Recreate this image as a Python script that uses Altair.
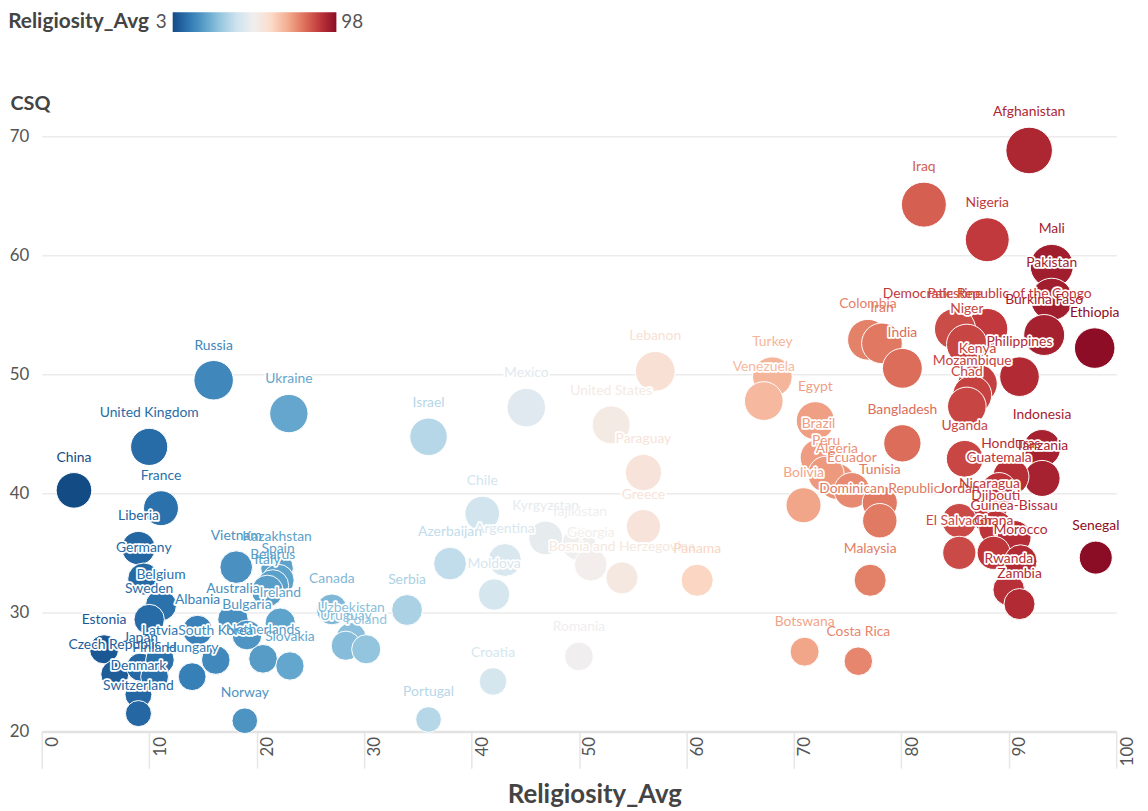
import altair as alt
import pandas as pd

countries = [
    "China", "United Kingdom", "Russia", "Ukraine", "France", "Liberia", "Germany", "Belgium",
    "Sweden", "Estonia", "Czech Republic", "Japan", "Latvia", "Finland", "Hungary", "South Korea",
    "Denmark", "Switzerland", "Albania", "Australia", "Bulgaria", "Netherlands", "Slovakia", "Norway",
    "Vietnam", "Kazakhstan", "Spain", "Belarus", "Italy", "Ireland", "Canada", "Uzbekistan",
    "Uruguay", "Poland", "Israel", "Serbia", "Azerbaijan", "Chile", "Argentina", "Moldova",
    "Mexico", "Kyrgyzstan", "Tajikistan", "Georgia", "Bosnia and Herzegovina", "Croatia", "Portugal", "Romania",
    "United States", "Lebanon", "Paraguay", "Greece", "Panama", "Turkey", "Venezuela", "Egypt",
    "Brazil", "Algeria", "Peru", "Ecuador", "Bolivia", "Tunisia", "Dominican Republic", "Malaysia",
    "Botswana", "Costa Rica", "Colombia", "Iran", "India", "Bangladesh", "Iraq", "Afghanistan",
    "Nigeria", "Mali", "Pakistan", "Democratic Republic of the Congo", "Palestine", "Burkina Faso", "Ethiopia", "Niger",
    "Philippines", "Kenya", "Mozambique", "Chad", "Uganda", "Indonesia", "Tanzania", "Honduras",
    "Guatemala", "Nicaragua", "Jordan", "Djibouti", "Guinea-Bissau", "El Salvador", "Ghana", "Morocco",
    "Rwanda", "Zambia", "Senegal",
]
religiosity = [
    3.0, 10.0, 16.0, 23.0, 11.1, 9.0, 9.5, 11.1,
    10.0, 5.8, 6.8, 9.2, 11.0, 10.5, 14.0, 16.2,
    9.0, 9.0, 14.5, 17.8, 19.1, 20.6, 23.1, 18.9,
    18.1, 21.9, 22.0, 21.5, 21.0, 22.2, 27.0, 28.8,
    28.3, 30.2, 36.0, 34.0, 38.0, 41.0, 43.1, 42.1,
    45.1, 46.9, 50.0, 51.1, 54.0, 42.0, 36.0, 50.0,
    53.0, 57.1, 56.0, 56.0, 61.0, 68.0, 67.2, 72.0,
    72.3, 74.0, 73.0, 75.4, 70.9, 78.0, 78.0, 77.1,
    71.0, 76.0, 76.9, 78.2, 80.1, 80.1, 82.1, 91.9,
    88.0, 94.0, 94.0, 88.0, 85.0, 93.3, 98.0, 86.1,
    91.0, 87.1, 86.6, 86.1, 85.9, 93.1, 93.1, 90.2,
    89.1, 88.2, 85.4, 88.8, 90.5, 85.4, 88.6, 91.1,
    90.0, 91.0, 98.1,
]
csq = [
    40.25, 43.9, 49.5, 46.7, 38.75, 35.4, 32.8, 30.6,
    29.4, 26.9, 24.8, 25.4, 26.0, 24.6, 24.6, 26.0,
    23.1, 21.5, 28.5, 29.4, 28.1, 26.1, 25.5, 20.9,
    33.8, 33.7, 32.7, 32.25, 31.8, 29.1, 30.25, 27.9,
    27.2, 26.9, 44.75, 30.2, 34.1, 38.3, 34.4, 31.5,
    47.2, 36.25, 35.75, 34.0, 32.9, 24.2, 21.0, 26.3,
    45.75, 50.25, 41.75, 37.2, 32.7, 49.8, 47.75, 46.1,
    43.0, 41.0, 41.6, 40.25, 39.0, 39.2, 37.7, 32.7,
    26.7, 25.9, 52.9, 52.6, 50.5, 44.2, 64.25, 68.8,
    61.3, 59.1, 56.3, 53.8, 53.8, 53.3, 52.2, 52.5,
    49.8, 49.2, 48.25, 47.3, 42.9, 43.8, 41.25, 41.4,
    40.25, 38.1, 37.7, 37.1, 36.3, 35.0, 35.0, 34.3,
    31.9, 30.7, 34.6,
]

x_ticks = list(range(0, 101, 10))
y_ticks = list(range(20, 71, 10))
legend_title = "Religiosity_Avg"
legend_min = "3"
legend_max = "98"

FONT = "Lato"
df = pd.DataFrame({"country": countries, "religiosity": religiosity, "csq": csq})

color_scale = alt.Scale(scheme="redblue", reverse=True, domain=[3, 98])
# Vega circle: diameter = sqrt(size); area proportional to CSQ
size_scale = alt.Scale(type="linear", domain=[0, 70], range=[0, 2240])

x_enc = alt.X(
    "religiosity:Q",
    scale=alt.Scale(domain=[0, 100], nice=False, zero=False),
    axis=alt.Axis(
        values=x_ticks, grid=False, tickSize=37, tickColor="#e6e6e6", tickWidth=1.5,
        domainColor="#e2e2e2", domainWidth=2.5, labelAngle=270, labelOffset=11,
        labelPadding=-32, labelFontSize=17, labelColor="#555555", labelFont=FONT,
        title="Religiosity_Avg", titleFontSize=26, titleFontWeight="bold",
        titleColor="#444444", titleY=64, titleX=557, titleBaseline="middle", titleFont=FONT,
    ),
)
y_enc = alt.Y(
    "csq:Q",
    scale=alt.Scale(domain=[20, 70], nice=False, zero=False),
    axis=alt.Axis(
        values=y_ticks, ticks=False, domain=False, labelFontSize=17, labelColor="#555555",
        labelPadding=13, labelFont=FONT, gridColor="#ebebeb", gridWidth=1.5,
        title="CSQ", titleAngle=0, titleX=-32, titleY=-33, titleAlign="left",
        titleBaseline="middle", titleFontSize=20, titleFontWeight="bold",
        titleColor="#444444", titleFont=FONT,
    ),
)
color_enc = alt.Color(
    "religiosity:Q",
    scale=color_scale,
    legend=alt.Legend(
        orient="none", legendX=132, legendY=-125, direction="horizontal",
        gradientLength=165, gradientThickness=20, labelOpacity=0, title=None,
        gradientStrokeWidth=0,
    ),
)

base = alt.Chart(df)
points = base.mark_circle(opacity=1, stroke="white", strokeWidth=1).encode(
    x=x_enc, y=y_enc, color=color_enc,
    size=alt.Size("csq:Q", scale=size_scale, legend=None),
)
# label sits just above its circle: radius (px) + gap, converted at 12 px per CSQ unit
lab_base = base.transform_calculate(
    label_y="datum.csq + (2.83*sqrt(datum.csq) + 15) / 12"
)
halo = lab_base.mark_text(
    font=FONT, fontSize=14, stroke="white", strokeWidth=3.5, strokeJoin="round",
    fill="white", baseline="middle",
).encode(
    x="religiosity:Q", y="label_y:Q", text="country:N",
)
labels = lab_base.mark_text(font=FONT, fontSize=14, baseline="middle").encode(
    x="religiosity:Q", y="label_y:Q", text="country:N",
    color=alt.Color("religiosity:Q", scale=color_scale, legend=None),
)

leg_t = alt.Chart(pd.DataFrame({"t": [legend_title]})).mark_text(
    font=FONT, fontSize=21, fontWeight="bold", color="#444444", align="right", baseline="middle"
).encode(x=alt.value(108), y=alt.value(-115), text="t:N")
leg_min = alt.Chart(pd.DataFrame({"t": [legend_min]})).mark_text(
    font=FONT, fontSize=19, color="#555555", align="right", baseline="middle"
).encode(x=alt.value(126), y=alt.value(-115), text="t:N")
leg_max = alt.Chart(pd.DataFrame({"t": [legend_max]})).mark_text(
    font=FONT, fontSize=19, color="#555555", align="left", baseline="middle"
).encode(x=alt.value(302), y=alt.value(-115), text="t:N")

chart = alt.layer(points, halo, labels, leg_t, leg_min, leg_max).properties(
    width=1083, height=600, padding={"left": 0, "top": 0, "right": 5, "bottom": 0}
).configure(font=FONT).configure_view(stroke=None)

chart.save("out.html", embed_options={"renderer": "svg", "actions": False})
